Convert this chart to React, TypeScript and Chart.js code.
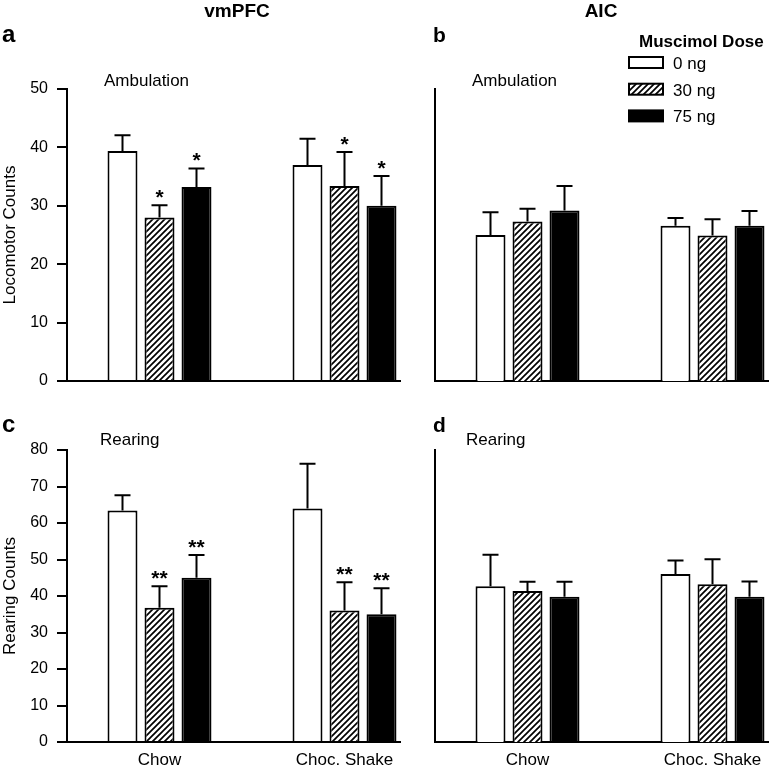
import React, { useEffect, useRef } from 'react';
import { Chart, registerables } from 'chart.js';

Chart.register(...registerables);

const FONT = "'Liberation Sans', Arial, Helvetica, sans-serif";

// ---------- data ----------
const groups = ['Chow', 'Choc. Shake'];
const doseLabels = ['0 ng', '30 ng', '75 ng'];
const legendTitle = 'Muscimol Dose';
const regionTitles = ['vmPFC', 'AIC'];
const measureTitles = ['Ambulation', 'Rearing'];
const panelLetters = ['a', 'b', 'c', 'd'];
const yTitles = ['Locomotor Counts', 'Rearing Counts'];
const locoTicks = [0, 10, 20, 30, 40, 50];
const rearTicks = [0, 10, 20, 30, 40, 50, 60, 70, 80];

// (a) vmPFC - Ambulation
const aMean0 = [39.4, 37.0];
const aMean30 = [28.0, 33.4];
const aMean75 = [33.2, 30.0];
const aSem0 = [2.7, 4.5];
const aSem30 = [2.1, 5.8];
const aSem75 = [3.2, 5.1];
const aSig0 = ['', ''];
const aSig30 = ['*', '*'];
const aSig75 = ['*', '*'];

// (b) AIC - Ambulation
const bMean0 = [25.0, 26.6];
const bMean30 = [27.3, 24.9];
const bMean75 = [29.2, 26.6];
const bSem0 = [3.9, 1.3];
const bSem30 = [2.2, 2.8];
const bSem75 = [4.2, 2.5];
const bSig0 = ['', ''];
const bSig30 = ['', ''];
const bSig75 = ['', ''];

// (c) vmPFC - Rearing
const cMean0 = [63.4, 64.0];
const cMean30 = [36.8, 36.0];
const cMean75 = [45.0, 35.0];
const cSem0 = [4.2, 12.2];
const cSem30 = [5.9, 7.8];
const cSem75 = [6.2, 7.1];
const cSig0 = ['', ''];
const cSig30 = ['**', '**'];
const cSig75 = ['**', '**'];

// (d) AIC - Rearing
const dMean0 = [42.7, 46.0];
const dMean30 = [41.4, 43.2];
const dMean75 = [39.8, 39.8];
const dSem0 = [8.6, 3.7];
const dSem30 = [2.5, 6.9];
const dSem75 = [4.1, 4.2];
const dSig0 = ['', ''];
const dSig30 = ['', ''];
const dSig75 = ['', ''];

// ---------- drawing helpers ----------
type TextItem = { text: string; x: number; y: number; font: string; align: CanvasTextAlign };
type Area = { left: number; top: number; right: number; bottom: number };
type PanelSpec = {
  means: number[][];
  sems: number[][];
  sigs: string[][];
  yTicks: number[];
  yTitle: string | null;
  showXLabels: boolean;
  area: Area;
  texts: TextItem[];
  legend: boolean;
};

let hatchCache: CanvasPattern | null = null;
function makeHatch(): CanvasPattern {
  if (hatchCache) return hatchCache;
  const c = document.createElement('canvas');
  c.width = 6;
  c.height = 6;
  const g = c.getContext('2d')!;
  g.fillStyle = '#ffffff';
  g.fillRect(0, 0, 6, 6);
  g.strokeStyle = '#000000';
  g.lineWidth = 1.7;
  g.beginPath();
  g.moveTo(-1, 7);
  g.lineTo(7, -1);
  g.moveTo(-4, 4);
  g.lineTo(4, -4);
  g.moveTo(2, 10);
  g.lineTo(10, 2);
  g.stroke();
  hatchCache = g.createPattern(c, 'repeat')!;
  return hatchCache;
}

const Y_AXIS_W = 67;
const X_AXIS_H = 26;
const W = 772;
const H = 768;

function buildChart(canvas: HTMLCanvasElement, spec: PanelSpec) {
  const fills: any[] = ['#ffffff', makeHatch(), '#000000'];
  const datasets = spec.means.map((m, d) => ({
    label: doseLabels[d],
    data: groups.map((_, g) => ({ x: g, y: m[g] })),
    sem: spec.sems[d],
    sig: spec.sigs[d],
    backgroundColor: fills[d],
    borderColor: '#000000',
    borderWidth: 2,
    categoryPercentage: 0.6,
    barPercentage: 0.81,
  }));
  const yMax = spec.yTicks[spec.yTicks.length - 1];
  const yw = spec.yTitle ? Y_AXIS_W : 0;
  const xh = spec.showXLabels ? X_AXIS_H : 0;
  const a = spec.area;

  const decor = {
    id: 'decor',
    afterDatasetsDraw(chart: any) {
      const ctx: CanvasRenderingContext2D = chart.ctx;
      const ys = chart.scales.y;
      ctx.save();
      chart.data.datasets.forEach((ds: any, di: number) => {
        const meta = chart.getDatasetMeta(di);
        meta.data.forEach((el: any, i: number) => {
          const top = ys.getPixelForValue(ds.data[i].y + ds.sem[i]);
          ctx.strokeStyle = '#000';
          ctx.lineWidth = 2;
          ctx.beginPath();
          ctx.moveTo(el.x, el.y);
          ctx.lineTo(el.x, top);
          ctx.moveTo(el.x - 8, top);
          ctx.lineTo(el.x + 8, top);
          ctx.stroke();
          const s = ds.sig[i];
          if (s) {
            ctx.fillStyle = '#000';
            ctx.font = `bold 21px ${FONT}`;
            ctx.textAlign = 'center';
            ctx.textBaseline = 'alphabetic';
            ctx.fillText(s, el.x, top - 1.5);
          }
        });
      });
      ctx.fillStyle = '#000';
      ctx.textBaseline = 'alphabetic';
      for (const t of spec.texts) {
        ctx.font = t.font;
        ctx.textAlign = t.align;
        ctx.fillText(t.text, t.x, t.y);
      }
      if (spec.legend) {
        ctx.font = `bold 17px ${FONT}`;
        ctx.textAlign = 'left';
        ctx.fillText(legendTitle, 639, 47);
        chart.data.datasets.forEach((ds: any, d: number) => {
          const y = 57 + d * 26.7;
          ctx.fillStyle = ds.backgroundColor;
          ctx.fillRect(629, y, 34, 11);
          ctx.strokeStyle = '#000';
          ctx.lineWidth = 2;
          ctx.strokeRect(629, y, 34, 11);
          ctx.fillStyle = '#000';
          ctx.font = `17px ${FONT}`;
          ctx.fillText(ds.label, 673, y + 12);
        });
      }
      ctx.restore();
    },
  };

  return new Chart(canvas, {
    type: 'bar',
    data: { datasets: datasets as any },
    plugins: [decor],
    options: {
      animation: false,
      responsive: false,
      events: [],
      layout: {
        padding: {
          left: a.left - yw,
          top: a.top,
          right: W - a.right,
          bottom: H - a.bottom - xh,
        },
      },
      plugins: {
        legend: { display: false },
        tooltip: { enabled: false },
        title: { display: false },
      },
      scales: {
        x: {
          type: 'linear',
          min: -0.5,
          max: 1.3,
          offset: false,
          afterBuildTicks: (s: any) => {
            s.ticks = groups.map((_, i) => ({ value: i }));
          },
          afterFit: (s: any) => {
            s.height = xh;
          },
          ticks: {
            display: spec.showXLabels,
            autoSkip: false,
            maxRotation: 0,
            minRotation: 0,
            padding: 0,
            color: '#000',
            font: { family: FONT, size: 17 },
            callback: (v: any) => groups[v as number] ?? '',
          },
          grid: { display: false, offset: false },
          border: { display: true, color: '#000', width: 2 },
        },
        y: {
          type: 'linear',
          min: 0,
          max: yMax,
          afterBuildTicks: (s: any) => {
            s.ticks = spec.yTicks.map((v) => ({ value: v }));
          },
          afterFit: (s: any) => {
            s.width = yw;
          },
          ticks: {
            display: !!spec.yTitle,
            padding: 9,
            color: '#000',
            font: { family: FONT, size: 16 },
          },
          grid: {
            display: !!spec.yTitle,
            drawOnChartArea: false,
            drawTicks: true,
            tickLength: 10,
            color: '#000',
            lineWidth: 2,
          },
          border: { display: true, color: '#000', width: 2 },
          title: {
            display: !!spec.yTitle,
            text: spec.yTitle || '',
            color: '#000',
            font: { family: FONT, size: 17 },
            padding: { top: 0, bottom: 0 },
          },
        },
      },
    } as any,
  });
}

const topArea = { top: 89, bottom: 381 };
const botArea = { top: 450, bottom: 742 };
const leftArea = { left: 67, right: 400 };
const rightArea = { left: 435, right: 768 };

const bold = (s: number) => `bold ${s}px ${FONT}`;
const reg = (s: number) => `${s}px ${FONT}`;

const specs: PanelSpec[] = [
  {
    means: [aMean0, aMean30, aMean75],
    sems: [aSem0, aSem30, aSem75],
    sigs: [aSig0, aSig30, aSig75],
    yTicks: locoTicks,
    yTitle: yTitles[0],
    showXLabels: false,
    area: { ...leftArea, ...topArea },
    texts: [
      { text: regionTitles[0], x: 237, y: 17, font: bold(19), align: 'center' },
      { text: panelLetters[0], x: 2, y: 42, font: bold(24), align: 'left' },
      { text: measureTitles[0], x: 104, y: 86, font: reg(17), align: 'left' },
    ],
    legend: false,
  },
  {
    means: [bMean0, bMean30, bMean75],
    sems: [bSem0, bSem30, bSem75],
    sigs: [bSig0, bSig30, bSig75],
    yTicks: locoTicks,
    yTitle: null,
    showXLabels: false,
    area: { ...rightArea, ...topArea },
    texts: [
      { text: regionTitles[1], x: 601, y: 17, font: bold(19), align: 'center' },
      { text: panelLetters[1], x: 433, y: 42, font: bold(21), align: 'left' },
      { text: measureTitles[0], x: 472, y: 86, font: reg(17), align: 'left' },
    ],
    legend: true,
  },
  {
    means: [cMean0, cMean30, cMean75],
    sems: [cSem0, cSem30, cSem75],
    sigs: [cSig0, cSig30, cSig75],
    yTicks: rearTicks,
    yTitle: yTitles[1],
    showXLabels: true,
    area: { ...leftArea, ...botArea },
    texts: [
      { text: panelLetters[2], x: 2, y: 432, font: bold(24), align: 'left' },
      { text: measureTitles[1], x: 100, y: 445, font: reg(17), align: 'left' },
    ],
    legend: false,
  },
  {
    means: [dMean0, dMean30, dMean75],
    sems: [dSem0, dSem30, dSem75],
    sigs: [dSig0, dSig30, dSig75],
    yTicks: rearTicks,
    yTitle: null,
    showXLabels: true,
    area: { ...rightArea, ...botArea },
    texts: [
      { text: panelLetters[3], x: 433, y: 432, font: bold(21), align: 'left' },
      { text: measureTitles[1], x: 466, y: 445, font: reg(17), align: 'left' },
    ],
    legend: false,
  },
];

function Panel({ spec }: { spec: PanelSpec }) {
  const ref = useRef<HTMLCanvasElement>(null);
  useEffect(() => {
    const chart = buildChart(ref.current!, spec);
    return () => chart.destroy();
  }, [spec]);
  return (
    <canvas
      ref={ref}
      width={W}
      height={H}
      style={{ position: 'absolute', left: 0, top: 0, width: W, height: H, pointerEvents: 'none' }}
    />
  );
}

export default function App() {
  return (
    <div
      style={{
        position: 'absolute',
        left: 0,
        top: 0,
        width: W,
        height: H,
        background: '#ffffff',
        overflow: 'hidden',
      }}
    >
      {specs.map((s, i) => (
        <Panel key={i} spec={s} />
      ))}
    </div>
  );
}
